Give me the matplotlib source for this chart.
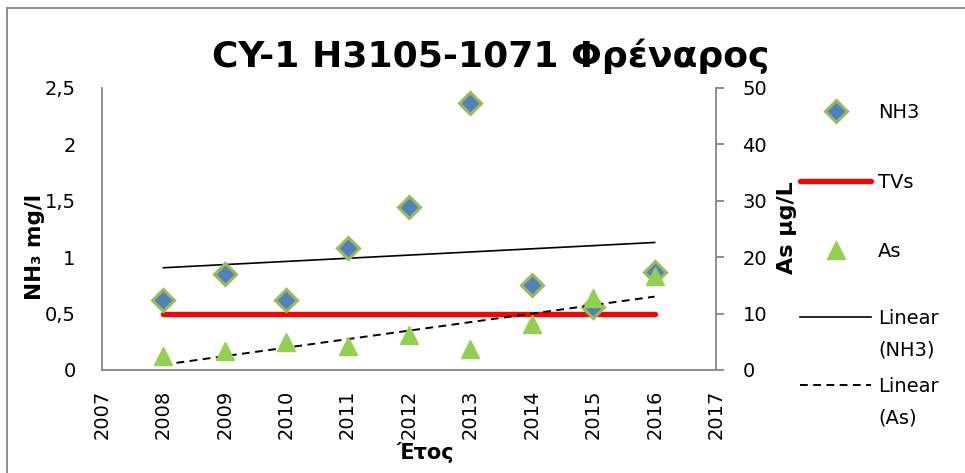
import numpy as np
import matplotlib
matplotlib.use('Agg')
from matplotlib import pyplot as plt
from matplotlib.lines import Line2D

plt.rcParams['font.family'] = ['DejaVu Sans']

years = [2008, 2009, 2010, 2011, 2012, 2013, 2014, 2015, 2016]
nh3 = [0.62, 0.85, 0.62, 1.08, 1.445, 2.37, 0.75, 0.56, 0.87]
arsenic = [2.5, 3.4, 5.0, 4.3, 6.2, 3.8, 8.2, 12.8, 16.6]
tv_nh3 = [0.5, 0.5]
tv_years = [2008, 2016]

x_ticks = list(range(2007, 2018))
left_ticks = [0, 0.5, 1, 1.5, 2, 2.5]
left_labels = ['0', '0,5', '1', '1,5', '2', '2,5']
right_ticks = [0, 10, 20, 30, 40, 50]

gray = '#868686'
fs = 14

fig = plt.figure(figsize=(9.65, 4.73), dpi=100)
ax = fig.add_axes([0.1057, 0.2178, 0.6363, 0.5962])
ax2 = ax.twinx()

# trend lines (least squares, like Excel's linear trendline)
x = np.array(years, dtype=float)
p1 = np.polyfit(x, nh3, 1)
p2 = np.polyfit(x, arsenic, 1)

h_nh3, = ax.plot(years, nh3, linestyle='none', marker='D', markersize=11.5,
                 markerfacecolor='#4F81BD', markeredgecolor='#9BBB59',
                 markeredgewidth=2.2, label='NH3', zorder=4)
h_tv, = ax.plot(tv_years, tv_nh3, color='#FF0000', linewidth=3.8,
                solid_capstyle='round', label='TVs', zorder=3)
h_lin1, = ax.plot(x, np.polyval(p1, x), color='black', linewidth=1.2,
                  label='Linear\n(NH3)', zorder=2)
h_as, = ax2.plot(years, arsenic, linestyle='none', marker='^', markersize=13,
                 markerfacecolor='#92D050', markeredgecolor='#92D050',
                 label='As', zorder=4)
h_lin2, = ax2.plot(x, np.polyval(p2, x), color='black', linewidth=1.4,
                   linestyle=(0, (4, 2.8)), label='Linear\n(As)', zorder=2)

ax.set_xlim(2007, 2017)
ax.set_ylim(0, 2.5)
ax2.set_ylim(0, 50)
ax.set_xticks(x_ticks)
ax.set_xticklabels([str(t) for t in x_ticks], rotation=90)
ax.set_yticks(left_ticks)
ax.set_yticklabels(left_labels)
ax2.set_yticks(right_ticks)

for a in (ax, ax2):
    for s in a.spines.values():
        s.set_visible(False)
ax.spines['left'].set_visible(True)
ax.spines['bottom'].set_visible(True)
ax2.spines['right'].set_visible(True)
for s in (ax.spines['left'], ax.spines['bottom'], ax2.spines['right']):
    s.set_color(gray)
    s.set_linewidth(1.3)

ax.tick_params(axis='y', length=0, labelsize=fs, pad=19)
ax.tick_params(axis='x', length=0, labelsize=fs, pad=14)
ax2.tick_params(axis='y', length=6, width=1.3, color=gray, labelsize=fs, pad=13)

ax.set_ylabel('NH\u2083 mg/l', fontsize=15.5, fontweight='bold')
ax.yaxis.set_label_coords(-0.0928, 0.436)
ax2.set_ylabel('As \u03bcg/L', fontsize=16, fontweight='bold')
ax2.yaxis.set_label_coords(1.0993, 0.5035)
ax.set_xlabel('\u0388\u03c4\u03bf\u03c2', fontsize=15, fontweight='bold')
ax.xaxis.set_label_coords(0.526, -0.255)

fig.text(0.509, 1 - 67 / 473, 'CY-1 H3105-1071 \u03a6\u03c1\u03ad\u03bd\u03b1\u03c1\u03bf\u03c2',
         ha='center', va='baseline', fontsize=26, fontweight='bold')

leg1 = fig.legend([h_nh3, h_tv, h_as], ['NH3', 'TVs', 'As'],
                  loc='upper left', bbox_to_anchor=(800 / 965, 1 - 103 / 473),
                  frameon=False, fontsize=fs, handlelength=3.66,
                  handletextpad=0.36, labelspacing=2.6, numpoints=1,
                  borderpad=0, borderaxespad=0)
leg2 = fig.legend([h_lin1, h_lin2], ['Linear\n(NH3)', 'Linear\n(As)'],
                  loc='upper left', bbox_to_anchor=(800 / 965, 1 - 309 / 473),
                  frameon=False, fontsize=fs, handlelength=3.66,
                  handletextpad=0.36, labelspacing=0.95, numpoints=1,
                  borderpad=0, borderaxespad=0, handleheight=1.1)
for t in leg2.get_texts():
    t.set_linespacing(1.8)
# Excel puts the handle next to the first line of a two-line label
for col in leg2._legend_handle_box.get_children():
    for item in col.get_children():
        item.align = 'top'

# chart area frame (left and top edges are inside the picture)
fig.add_artist(Line2D([7 / 965, 7 / 965], [0, 1 - 8 / 473], transform=fig.transFigure,
                      color=gray, linewidth=1.3))
fig.add_artist(Line2D([7 / 965, 1], [1 - 8 / 473, 1 - 8 / 473], transform=fig.transFigure,
                      color=gray, linewidth=1.3))

fig.savefig('out.png', dpi=100)
